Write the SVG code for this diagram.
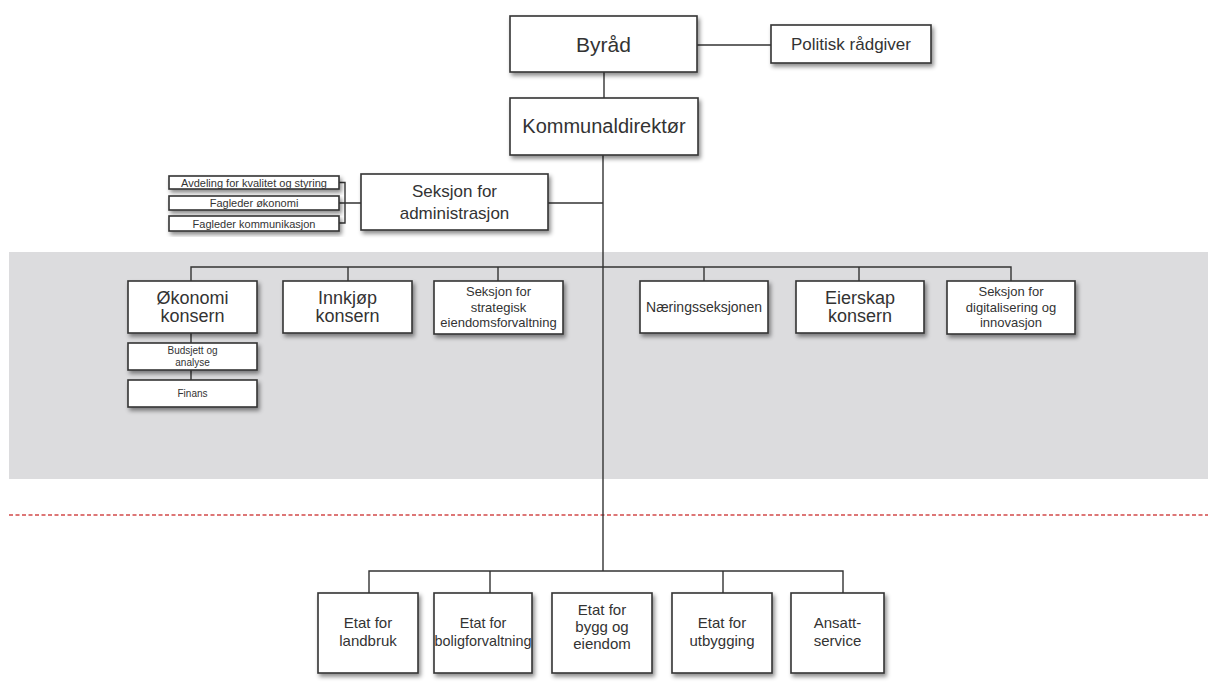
<svg xmlns="http://www.w3.org/2000/svg" width="1208" height="689" viewBox="0 0 1208 689">
<defs>
<filter id="sh" x="-10%" y="-10%" width="130%" height="150%">
<feDropShadow dx="2" dy="3" stdDeviation="2" flood-color="#000" flood-opacity="0.45"/>
</filter>
<style>
.b{fill:#fff;stroke:#333;stroke-width:1.6;filter:url(#sh)}
.c{fill:none;stroke:#333;stroke-width:1.4}
text{font-family:"Liberation Sans",Arial,sans-serif;fill:#333;text-anchor:middle}
</style>
</defs>
<rect x="9" y="252" width="1199" height="227" fill="#dcdcde"/>
<line x1="9" y1="515" x2="1208" y2="515" stroke="#d24a4a" stroke-width="1.6" stroke-dasharray="4 2.5"/>
<g id="connectors">
<path class="c" d="M697 45H771"/>
<path class="c" d="M604 72V98"/>
<path class="c" d="M603 155V571"/>
<path class="c" d="M548 203H603"/>
<path class="c" d="M339 182.5H345V223H339M339 203H361"/>
<path class="c" d="M191 281V267H1011V281M348 267V281M498 267V281M704 267V281M859 267V281"/>
<path class="c" d="M191 333V343M191 370V380"/>
<path class="c" d="M369 593V571H843V593M490 571V593M723 571V593"/>
</g>
<g id="byrad"><rect class="b" x="510" y="16" width="187" height="56"/><text x="603.5" y="52" font-size="21">Byråd</text></g>
<g id="politisk"><rect class="b" x="771" y="25" width="160" height="38"/><text x="851" y="50" font-size="17">Politisk rådgiver</text></g>
<g id="kommunal"><rect class="b" x="510" y="98" width="188" height="57"/><text x="604" y="133" font-size="20">Kommunaldirektør</text></g>
<g id="admin"><rect class="b" x="361" y="174" width="187" height="56"/><text x="454.5" y="197" font-size="17">Seksjon for</text><text x="454.5" y="219" font-size="17">administrasjon</text></g>
<g id="kvalitet"><rect class="b" x="169" y="176" width="170" height="13"/><text x="254" y="186.5" font-size="11">Avdeling for kvalitet og styring</text></g>
<g id="fagok"><rect class="b" x="169" y="196" width="170" height="14"/><text x="254" y="207" font-size="11">Fagleder økonomi</text></g>
<g id="fagkom"><rect class="b" x="169" y="216" width="170" height="15"/><text x="254" y="227.5" font-size="11">Fagleder kommunikasjon</text></g>
<g id="okonomi"><rect class="b" x="128" y="281" width="129" height="52"/><text x="192.5" y="304" font-size="18">Økonomi</text><text x="192.5" y="322" font-size="18">konsern</text></g>
<g id="budsjett"><rect class="b" x="128" y="343" width="129" height="27"/><text x="192.5" y="354" font-size="10">Budsjett og</text><text x="192.5" y="366" font-size="10">analyse</text></g>
<g id="finans"><rect class="b" x="128" y="380" width="129" height="27"/><text x="192.5" y="397" font-size="10">Finans</text></g>
<g id="innkjop"><rect class="b" x="283" y="281" width="129" height="52"/><text x="347.5" y="304" font-size="18">Innkjøp</text><text x="347.5" y="322" font-size="18">konsern</text></g>
<g id="strategisk"><rect class="b" x="434" y="281" width="129" height="53"/><text x="498.5" y="296" font-size="13">Seksjon for</text><text x="498.5" y="311.5" font-size="13">strategisk</text><text x="498.5" y="327" font-size="13">eiendomsforvaltning</text></g>
<g id="naering"><rect class="b" x="640" y="281" width="128" height="52"/><text x="704" y="312" font-size="14">Næringsseksjonen</text></g>
<g id="eierskap"><rect class="b" x="796" y="281" width="128" height="52"/><text x="860" y="304" font-size="18">Eierskap</text><text x="860" y="322" font-size="18">konsern</text></g>
<g id="digital"><rect class="b" x="947" y="281" width="128" height="53"/><text x="1011" y="296" font-size="13">Seksjon for</text><text x="1011" y="311.5" font-size="13">digitalisering og</text><text x="1011" y="327" font-size="13">innovasjon</text></g>
<g id="landbruk"><rect class="b" x="318" y="593" width="100" height="80"/><text x="368" y="628" font-size="15">Etat for</text><text x="368" y="646" font-size="15">landbruk</text></g>
<g id="bolig"><rect class="b" x="434" y="593" width="98" height="80"/><text x="483" y="628" font-size="14.4">Etat for</text><text x="483" y="646" font-size="14.4">boligforvaltning</text></g>
<g id="bygg"><rect class="b" x="552" y="593" width="100" height="80"/><text x="602" y="615" font-size="15">Etat for</text><text x="602" y="632" font-size="15">bygg og</text><text x="602" y="649" font-size="15">eiendom</text></g>
<g id="utbygging"><rect class="b" x="672" y="593" width="100" height="80"/><text x="722" y="628" font-size="15">Etat for</text><text x="722" y="646" font-size="15">utbygging</text></g>
<g id="ansatt"><rect class="b" x="791" y="593" width="93" height="80"/><text x="837.5" y="628" font-size="15">Ansatt-</text><text x="837.5" y="646" font-size="15">service</text></g>
</svg>
